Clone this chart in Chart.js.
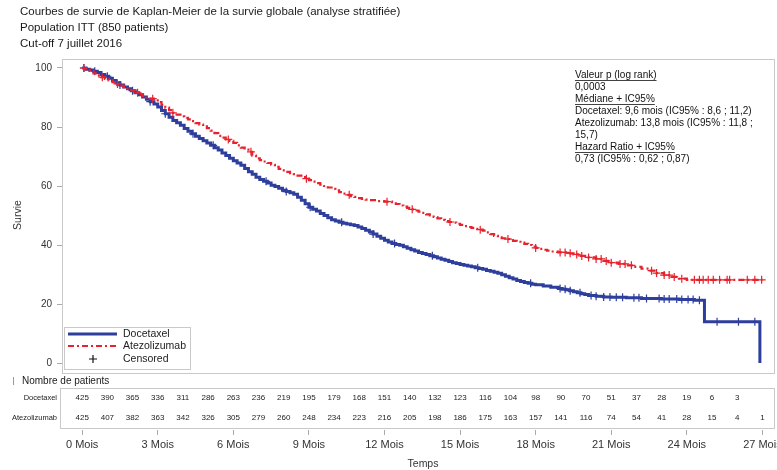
<!DOCTYPE html>
<html>
<head>
<meta charset="utf-8">
<script src="https://cdn.jsdelivr.net/npm/chart.js@4.4.1/dist/chart.umd.min.js"></script>
<style>
  html, body { margin: 0; padding: 0; background: #ffffff; }
  #wrap { position: relative; width: 777px; height: 470px; }
</style>
</head>
<body>
<div id="wrap"><canvas id="km"></canvas></div>
<script>
// Axis ticks
const tickMonths = [0, 3, 6, 9, 12, 15, 18, 21, 24, 27];
const survivalTicks = [0, 20, 40, 60, 80, 100];

// Kaplan-Meier steps: [month, survival %] (value after each drop)
const docetaxelKM = [
  [0,100],[0.15,99.6],[0.3,99.3],[0.45,98.9],[0.6,98.5],[0.75,97.8],[0.9,97.2],[1.05,96.5],[1.2,95.8],[1.35,95.0],
  [1.5,94.2],[1.65,93.6],[1.8,93.0],[1.95,92.3],[2.1,91.6],[2.25,90.9],[2.4,90.2],[2.55,89.4],[2.7,88.6],[2.85,87.8],
  [3.0,86.8],[3.15,85.6],[3.3,84.5],[3.45,83.3],[3.6,82.2],[3.75,81.4],[3.9,80.6],[4.05,79.5],[4.2,78.6],[4.35,77.7],
  [4.5,76.9],[4.65,76.1],[4.8,75.3],[4.95,74.6],[5.1,73.8],[5.25,73.0],[5.4,72.2],[5.55,71.2],[5.7,70.3],[5.85,69.4],
  [6.0,68.6],[6.15,67.8],[6.3,67.0],[6.45,65.9],[6.6,64.8],[6.75,64.0],[6.9,63.0],[7.05,62.2],[7.2,61.6],[7.35,61.0],
  [7.5,60.3],[7.65,59.8],[7.8,59.2],[7.95,58.6],[8.1,58.1],[8.25,57.7],[8.4,57.2],[8.55,56.2],[8.7,55.2],[8.85,54.0],
  [9.0,52.8],[9.15,52.1],[9.3,51.5],[9.45,50.7],[9.6,50.0],[9.75,49.2],[9.9,48.6],[10.05,48.1],[10.2,47.7],[10.35,47.4],
  [10.5,47.1],[10.65,46.9],[10.8,46.6],[10.95,46.1],[11.1,45.6],[11.25,45.0],[11.4,44.4],[11.55,43.7],[11.7,43.0],[11.85,42.3],
  [12.0,41.6],[12.15,41.0],[12.3,40.5],[12.45,40.2],[12.6,39.9],[12.75,39.4],[12.9,38.9],[13.05,38.4],[13.2,38.0],[13.35,37.5],
  [13.5,37.1],[13.65,36.8],[13.8,36.4],[13.95,36.0],[14.1,35.6],[14.25,35.2],[14.4,34.8],[14.55,34.4],[14.7,34.0],[14.85,33.7],
  [15.0,33.4],[15.15,33.1],[15.3,32.9],[15.45,32.6],[15.6,32.3],[15.75,32.0],[15.9,31.8],[16.05,31.4],[16.2,31.1],[16.35,30.8],
  [16.5,30.4],[16.65,29.9],[16.8,29.4],[16.95,28.9],[17.1,28.5],[17.25,28.0],[17.4,27.6],[17.55,27.3],[17.7,27.0],[17.85,26.7],
  [18.0,26.5],[18.3,26.1],[18.6,25.7],[18.9,25.3],[19.05,25.0],[19.2,24.8],[19.35,24.5],[19.5,24.2],[19.65,23.8],[19.8,23.5],
  [19.95,23.2],[20.1,22.9],[20.4,22.6],[20.7,22.4],[21.0,22.3],[21.6,22.1],[22.2,21.9],[23.0,21.7],[23.7,21.5],[24.3,21.3],
  [24.7,14.0],[26.9,0]
];
const atezolizumabKM = [
  [0,100],[0.15,99.5],[0.3,99.0],[0.45,98.2],[0.6,97.5],[0.75,96.9],[0.9,96.3],[1.05,95.8],[1.2,95.2],[1.35,94.6],
  [1.5,94.0],[1.65,93.5],[1.8,93.0],[1.95,92.3],[2.1,91.6],[2.25,91.0],[2.4,90.5],[2.55,90.0],[2.7,89.6],[2.85,89.0],
  [3.0,88.4],[3.15,87.5],[3.3,86.6],[3.45,85.7],[3.6,84.8],[3.75,84.2],[3.9,83.6],[4.05,83.1],[4.2,82.6],[4.35,82.0],
  [4.5,81.3],[4.65,80.8],[4.8,80.2],[4.95,79.6],[5.1,78.8],[5.25,77.9],[5.4,77.0],[5.55,76.4],[5.7,75.8],[5.85,75.3],
  [6.0,74.6],[6.15,73.8],[6.3,73.0],[6.45,72.3],[6.6,71.6],[6.75,70.3],[6.9,69.4],[7.05,68.8],[7.2,68.3],[7.35,67.8],
  [7.5,67.2],[7.65,66.5],[7.8,65.8],[7.95,65.3],[8.1,64.8],[8.25,64.4],[8.4,64.0],[8.55,63.5],[8.7,63.0],[8.85,62.5],
  [9.0,62.0],[9.15,61.5],[9.3,61.0],[9.45,60.5],[9.6,60.0],[9.75,59.5],[9.9,59.0],[10.05,58.5],[10.2,57.9],[10.35,57.4],
  [10.5,57.0],[10.65,56.6],[10.8,56.3],[10.95,55.9],[11.1,55.6],[11.25,55.4],[11.4,55.2],[11.7,54.9],[12.0,54.7],[12.3,54.5],
  [12.45,53.9],[12.6,53.4],[12.75,53.0],[12.9,52.6],[13.05,52.1],[13.2,51.7],[13.35,51.3],[13.5,50.9],[13.65,50.4],[13.8,50.0],
  [13.95,49.5],[14.1,49.0],[14.25,48.5],[14.4,48.1],[14.55,47.8],[14.7,47.6],[14.85,47.2],[15.0,46.8],[15.15,46.4],[15.3,46.1],
  [15.45,45.8],[15.6,45.5],[15.75,45.2],[15.9,44.9],[16.05,44.3],[16.2,43.7],[16.35,43.1],[16.5,42.6],[16.65,42.3],[16.8,42.0],
  [16.95,41.7],[17.1,41.4],[17.25,41.1],[17.4,40.8],[17.55,40.4],[17.7,40.0],[17.85,39.5],[18.0,39.0],[18.15,38.7],[18.3,38.4],
  [18.45,38.1],[18.6,37.8],[18.9,37.5],[19.2,37.2],[19.5,36.8],[19.8,36.3],[20.1,35.8],[20.4,35.3],[20.7,34.6],[21.0,34.0],
  [21.3,33.6],[21.6,33.1],[21.9,32.6],[22.2,32.0],[22.5,31.3],[22.8,30.5],[23.1,29.8],[23.4,29.2],[23.7,28.6],[24.0,28.2],
  [27.0,28.2]
];

// Censoring times (months)
const docetaxelCensored = [0.07,0.5,1.0,1.5,2.0,2.7,3.3,4.4,5.2,7.3,8.1,9.05,10.3,11.55,12.4,13.9,15.7,17.8,
  18.97,19.17,19.37,19.76,20.2,20.4,20.7,20.95,21.2,21.45,21.9,22.1,22.4,22.9,23.1,23.3,23.6,23.8,24.05,24.25,24.5,
  25.2,26.05,26.7];
const atezolizumabCensored = [0.07,0.8,1.4,2.2,2.8,3.6,5.8,6.7,8.9,10.6,12.1,13.1,14.6,15.8,16.9,18.0,
  18.97,19.17,19.37,19.63,19.83,20.1,20.4,20.6,20.8,21.0,21.35,21.55,21.8,22.6,22.8,23.1,23.3,23.5,23.8,
  24.3,24.5,24.65,24.85,25.05,25.3,25.6,25.7,26.4,26.7,26.97];

// Number at risk
const riskMonths = [0,1,2,3,4,5,6,7,8,9,10,11,12,13,14,15,16,17,18,19,20,21,22,23,24,25,26,27];
const docetaxelAtRisk = [425,390,365,336,311,286,263,236,219,195,179,168,151,140,132,123,116,104,98,90,70,51,37,28,19,6,3];
const atezolizumabAtRisk = [425,407,382,363,342,326,305,279,260,248,234,223,216,205,198,186,175,163,157,141,116,74,54,41,28,15,4,1];

// Texts
const titleLines = [
  'Courbes de survie de Kaplan-Meier de la survie globale (analyse stratifiée)',
  'Population ITT (850 patients)',
  'Cut-off 7 juillet 2016'
];
const statsLines = [
  ['Valeur p (log rank)', true],
  ['0,0003', false],
  ['Médiane + IC95%', true],
  ['Docetaxel: 9,6 mois (IC95% : 8,6 ; 11,2)', false],
  ['Atezolizumab: 13,8 mois (IC95% : 11,8 ;', false],
  ['15,7)', false],
  ['Hazard Ratio + IC95%', true],
  ['0,73 (IC95% : 0,62 ; 0,87)', false]
];
const seriesNames = ['Docetaxel', 'Atezolizumab'];

const BLUE = '#2d3e9c';
const RED = '#e8222c';
const FONT = '"Liberation Sans", Arial, sans-serif';

// Survival value on the step curve at a given time
function survivalAt(km, t) {
  let s = km[0][1];
  for (const [time, val] of km) { if (time <= t) s = val; else break; }
  return s;
}
const toPts = km => km.map(([x, y]) => ({ x, y }));
const censorPts = (km, times) => times.map(t => ({ x: t, y: survivalAt(km, t) }));

const decor = {
  id: 'decor',
  beforeDatasetsDraw(chart) {
    const ctx = chart.ctx;
    const { left, right, top } = chart.chartArea;
    const y = chart.scales.y;
    ctx.save();
    ctx.strokeStyle = '#c9c9c9';
    ctx.lineWidth = 1;
    // plot frame
    const plotBottom = Math.round(y.getPixelForValue(-3.4));
    ctx.strokeRect(left + 0.5, top + 0.5, right - left - 1, plotBottom - top);
    ctx.restore();
  },
  afterDatasetsDraw(chart) {
    const ctx = chart.ctx;
    const { right } = chart.chartArea;
    const xs = chart.scales.x;
    ctx.save();

    // titles
    ctx.fillStyle = '#1a1a1a';
    ctx.font = '11.5px ' + FONT;
    ctx.textAlign = 'left';
    ctx.textBaseline = 'middle';
    titleLines.forEach((t, i) => ctx.fillText(t, 20, 12 + i * 16));

    // y axis title
    ctx.save();
    ctx.translate(18, 215);
    ctx.rotate(-Math.PI / 2);
    ctx.textAlign = 'center';
    ctx.font = '10.5px ' + FONT;
    ctx.fillStyle = '#333';
    ctx.fillText('Survie', 0, 0);
    ctx.restore();

    // statistics block
    ctx.font = '10px ' + FONT;
    ctx.fillStyle = '#111';
    ctx.strokeStyle = '#111';
    ctx.lineWidth = 0.8;
    statsLines.forEach(([t, ul], i) => {
      const ty = 75 + i * 12;
      ctx.fillText(t, 575, ty);
      if (ul) {
        const w = ctx.measureText(t).width;
        ctx.beginPath();
        ctx.moveTo(575, ty + 5.5);
        ctx.lineTo(575 + w, ty + 5.5);
        ctx.stroke();
      }
    });

    // legend
    const lx = 64, ly = 327;
    ctx.fillStyle = '#fff';
    ctx.fillRect(lx, ly, 126, 42);
    ctx.strokeStyle = '#c9c9c9';
    ctx.lineWidth = 1;
    ctx.strokeRect(lx + 0.5, ly + 0.5, 126, 42);
    ctx.lineWidth = 3;
    ctx.strokeStyle = BLUE;
    ctx.beginPath(); ctx.moveTo(68, 334); ctx.lineTo(117, 334); ctx.stroke();
    ctx.lineWidth = 2.2;
    ctx.strokeStyle = RED;
    ctx.setLineDash([6, 3, 2, 3]);
    ctx.beginPath(); ctx.moveTo(68, 346); ctx.lineTo(117, 346); ctx.stroke();
    ctx.setLineDash([]);
    ctx.lineWidth = 1.2;
    ctx.strokeStyle = '#111';
    ctx.beginPath();
    ctx.moveTo(89, 359); ctx.lineTo(97, 359);
    ctx.moveTo(93, 355); ctx.lineTo(93, 363);
    ctx.stroke();
    ctx.fillStyle = '#222';
    ctx.font = '10.5px ' + FONT;
    ctx.fillText(seriesNames[0], 123, 334);
    ctx.fillText(seriesNames[1], 123, 346);
    ctx.fillText('Censored', 123, 359);

    // number at risk table
    ctx.strokeStyle = '#999';
    ctx.lineWidth = 1;
    ctx.beginPath(); ctx.moveTo(13.5, 377); ctx.lineTo(13.5, 385); ctx.stroke();
    ctx.fillStyle = '#1a1a1a';
    ctx.font = '10px ' + FONT;
    ctx.fillText('Nombre de patients', 22, 381);
    ctx.strokeStyle = '#c9c9c9';
    ctx.strokeRect(60.5, 388.5, right - 61, 40);

    ctx.font = '7.5px ' + FONT;
    ctx.textAlign = 'right';
    ctx.fillStyle = '#222';
    ctx.fillText(seriesNames[0], 57, 398);
    ctx.fillText(seriesNames[1], 57, 418);
    ctx.textAlign = 'center';
    ctx.font = '8px "Liberation Sans Narrow", ' + FONT;
    docetaxelAtRisk.forEach((n, i) => ctx.fillText(String(n), xs.getPixelForValue(riskMonths[i]), 398));
    atezolizumabAtRisk.forEach((n, i) => ctx.fillText(String(n), xs.getPixelForValue(riskMonths[i]), 418));

    // x axis title
    ctx.font = '10.5px ' + FONT;
    ctx.fillStyle = '#333';
    ctx.fillText('Temps', 423, 464);

    ctx.restore();
  }
};

new Chart(document.getElementById('km'), {
  type: 'line',
  data: {
    datasets: [
      {
        label: seriesNames[0],
        data: toPts(docetaxelKM),
        borderColor: BLUE,
        borderWidth: 3,
        stepped: 'before',
        pointRadius: 0,
        fill: false,
        order: 2
      },
      {
        label: seriesNames[1],
        data: toPts(atezolizumabKM),
        borderColor: RED,
        borderWidth: 2.2,
        borderDash: [6, 3, 2, 3],
        stepped: 'before',
        pointRadius: 0,
        fill: false,
        order: 1
      },
      {
        label: seriesNames[0] + ' censored',
        type: 'scatter',
        data: censorPts(docetaxelKM, docetaxelCensored),
        showLine: false,
        pointStyle: 'cross',
        pointRadius: 4,
        pointBorderWidth: 1.2,
        pointBorderColor: BLUE,
        order: 2
      },
      {
        label: seriesNames[1] + ' censored',
        type: 'scatter',
        data: censorPts(atezolizumabKM, atezolizumabCensored),
        showLine: false,
        pointStyle: 'cross',
        pointRadius: 4,
        pointBorderWidth: 1.2,
        pointBorderColor: RED,
        order: 1
      }
    ]
  },
  options: {
    responsive: true,
    maintainAspectRatio: false,
    animation: false,
    events: [],
    layout: { autoPadding: false, padding: { left: 0, top: 59, right: 2, bottom: 0 } },
    plugins: { legend: { display: false }, tooltip: { enabled: false }, title: { display: false } },
    scales: {
      x: {
        type: 'linear',
        min: -0.8,
        max: 27.5,
        afterBuildTicks: s => { s.ticks = tickMonths.map(v => ({ value: v })); },
        afterFit: s => { s.height = 40; s.paddingLeft = 0; s.paddingRight = 0; },
        grid: { drawOnChartArea: false, drawTicks: true, tickLength: 5, color: '#aaa' },
        border: { display: false },
        ticks: {
          callback: v => v + ' Mois',
          font: { family: FONT, size: 11 },
          color: '#333',
          padding: 3,
          maxRotation: 0,
          autoSkip: false
        }
      },
      y: {
        type: 'linear',
        min: -22.7,
        max: 103.05,
        afterBuildTicks: s => { s.ticks = survivalTicks.map(v => ({ value: v })); },
        afterFit: s => { s.width = 62; s.paddingTop = 0; s.paddingBottom = 0; },
        grid: { drawOnChartArea: false, drawTicks: true, tickLength: 5, color: '#aaa' },
        border: { display: false },
        ticks: {
          font: { family: FONT, size: 10 },
          color: '#333',
          padding: 5
        }
      }
    }
  },
  plugins: [decor]
});
</script>
</body>
</html>
